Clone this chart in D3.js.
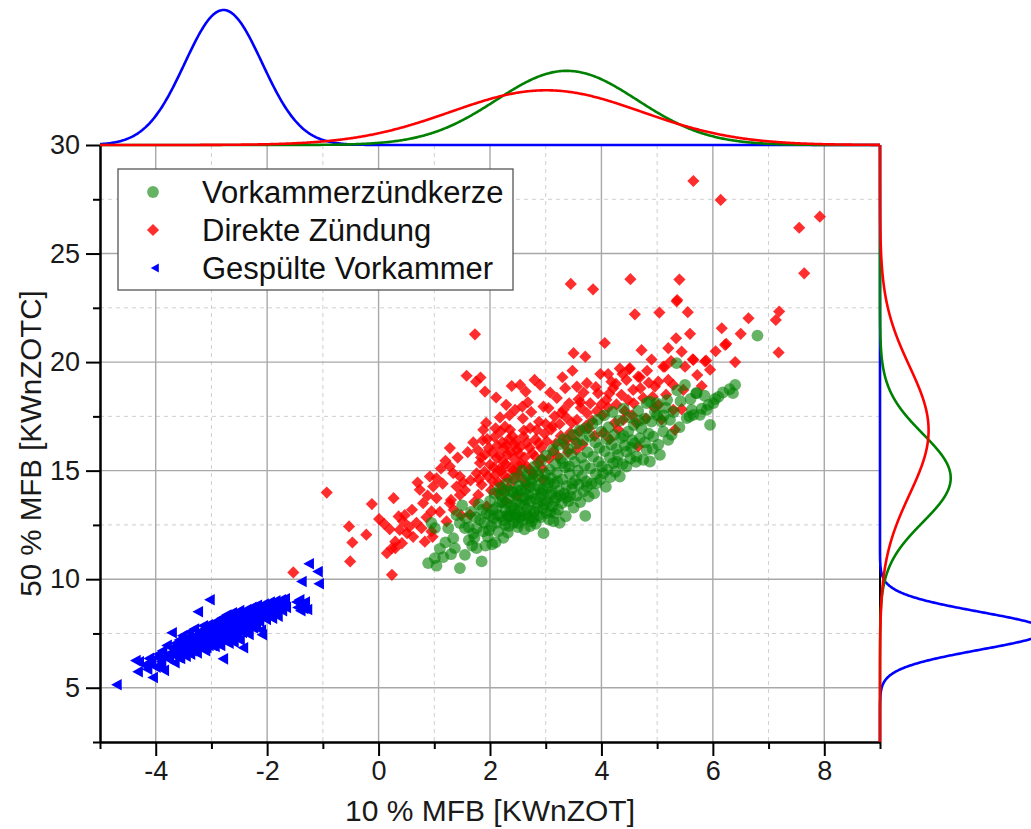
<!DOCTYPE html>
<html>
<head>
<meta charset="utf-8">
<script src="https://cdn.jsdelivr.net/npm/d3@7"></script>
<style>
  html, body { margin: 0; padding: 0; background: #fff; }
  svg { display: block; font-family: "Liberation Sans", Arial, sans-serif; }
</style>
</head>
<body>
<svg id="chart" width="1031" height="829"></svg>
<script>
// ---- Series names (legend order) ----
const seriesNames = ["Vorkammerzündkerze", "Direkte Zündung", "Gespülte Vorkammer"];

// ---- Axis ticks ----
const xTicks = [-4, -2, 0, 2, 4, 6, 8];
const xMinorTicks = [-5, -3, -1, 1, 3, 5, 7, 9];
const yTicks = [5, 10, 15, 20, 25, 30];
const yMinorTicks = [2.5, 7.5, 12.5, 17.5, 22.5, 27.5];
const xTitle = "10 % MFB [KWnZOT]";
const yTitle = "50 % MFB [KWnZOTC]";

// ---- Measurements: [10 % MFB, 50 % MFB] ----
const vorkammerPoints = [
  [0.89,10.74],[0.95,12.59],[1.01,10.97],[1.01,12.35],[1.04,10.62],[1.16,11.02],[1.20,11.70],[1.25,12.35],
  [1.34,11.89],[1.37,11.43],[1.46,10.51],[1.46,12.59],[1.55,11.12],[1.55,12.35],[1.40,12.95],[1.62,11.80],
  [1.66,13.10],[1.70,12.10],[1.74,12.85],[1.50,13.40],[1.10,11.40],[1.30,11.15],[1.58,12.80],[1.68,11.55],
  [1.62,12.40],[1.72,11.90],[1.86,13.20],[1.92,11.55],[2.00,12.95],[2.04,11.60],
  [1.76,11.43],[1.76,12.35],[1.82,12.73],[1.85,10.82],[1.88,12.20],[1.94,13.05],[1.96,11.95],[2.00,13.60],
  [2.02,12.45],[2.06,12.81],[2.08,13.95],[2.10,11.70],[2.12,13.30],[2.15,12.20],[2.18,14.20],[2.20,12.90],
  [2.22,13.55],[2.24,11.90],[1.90,12.60],[1.80,13.45],[1.98,12.25],[2.05,13.20],[2.12,12.60],[2.20,13.85],
  [2.14,12.95],[2.18,13.55],[2.26,14.05],[2.34,12.45],[2.43,13.25],[2.49,14.10],[2.54,12.85],[2.65,13.65],
  [2.72,12.45],
  [2.27,12.50],[2.28,13.20],[2.30,14.40],[2.32,12.15],[2.33,12.89],[2.35,13.70],[2.36,12.89],[2.38,14.05],
  [2.40,13.35],[2.42,12.60],[2.44,14.65],[2.46,13.00],[2.48,13.85],[2.50,12.40],[2.51,12.58],[2.53,14.30],
  [2.55,13.45],[2.57,12.95],[2.58,15.00],[2.60,13.75],[2.62,12.30],[2.64,14.15],[2.66,13.25],[2.68,14.80],
  [2.70,12.80],[2.72,13.60],[2.74,14.45],[2.75,12.66],[2.25,12.70],[2.29,13.50],[2.31,12.95],[2.37,13.15],
  [2.41,14.00],[2.45,12.85],[2.47,13.55],[2.52,13.10],[2.56,14.10],[2.59,12.75],[2.61,13.45],[2.63,14.55],
  [2.67,12.95],[2.69,13.90],[2.71,14.25],[2.73,13.15],
  [2.77,13.95],[2.79,13.10],[2.80,15.20],[2.82,12.55],[2.84,14.30],[2.85,13.50],[2.87,14.75],[2.88,12.95],
  [2.90,13.80],[2.92,15.45],[2.94,14.10],[2.95,13.25],[2.96,12.12],[2.98,14.55],[3.00,13.65],[3.01,15.70],
  [3.02,13.04],[3.04,14.20],[3.06,12.75],[3.07,15.05],[3.09,13.90],[3.10,14.65],[3.12,13.35],[3.13,15.95],
  [3.14,12.66],[3.15,14.40],[3.17,13.04],[3.18,15.30],[3.19,13.75],[3.20,14.90],[3.22,13.20],[3.23,16.20],
  [3.24,14.05],[3.25,12.60],[2.76,14.60],[2.78,12.85],[2.81,13.70],[2.83,14.95],[2.86,13.30],[2.89,14.15],
  [2.91,12.85],[2.93,13.95],[2.97,13.45],[2.99,14.85],[3.03,13.55],[3.05,14.45],[3.08,13.10],[3.11,14.05],
  [3.16,13.60],[3.21,14.50],
  [3.27,15.55],[3.29,13.50],[3.30,14.60],[3.32,16.45],[3.33,13.95],[3.35,15.15],[3.36,12.90],[3.38,14.30],
  [3.40,16.00],[3.41,13.60],[3.43,14.85],[3.44,13.81],[3.46,15.75],[3.47,14.15],[3.49,16.65],[3.50,13.30],
  [3.52,15.40],[3.53,14.55],[3.55,16.25],[3.56,13.85],[3.58,15.00],[3.59,14.35],[3.61,16.85],[3.62,13.55],
  [3.64,15.60],[3.65,14.75],[3.67,16.40],[3.68,14.05],[3.70,15.25],[3.71,12.92],[3.72,16.95],[3.73,14.50],
  [3.74,14.27],[3.75,15.85],[3.26,13.85],[3.31,15.35],[3.37,13.75],[3.42,15.20],[3.48,14.40],
  [3.77,13.80],[3.79,16.60],[3.80,15.10],[3.82,14.40],[3.84,17.15],[3.85,15.65],[3.87,13.95],[3.89,16.30],
  [3.90,14.85],[3.91,14.42],[3.93,17.35],[3.95,15.40],[3.96,16.05],[3.98,14.60],[4.00,16.80],[4.01,15.20],
  [4.03,14.88],[4.05,17.55],[4.06,15.90],[4.08,14.25],[4.10,16.45],[4.11,15.05],[4.13,17.00],[4.15,15.60],
  [4.16,14.70],[4.18,16.20],[4.20,17.70],[4.21,15.35],[4.23,16.65],[4.25,14.95],
  [4.27,16.00],[4.30,15.73],[4.32,17.30],[4.33,14.73],[4.35,16.50],[4.38,15.30],[4.40,17.85],[4.42,16.15],
  [4.45,15.19],[4.45,15.88],[4.48,16.80],[4.50,17.45],[4.52,15.55],[4.55,16.40],[4.58,17.10],[4.60,16.27],
  [4.62,15.40],[4.63,15.65],[4.66,17.75],[4.69,16.50],[4.72,16.95],[4.75,15.50],[4.28,15.40],[4.40,16.60],
  [4.54,16.05],[4.68,17.30],
  [4.78,17.40],[4.81,15.96],[4.81,18.11],[4.85,16.70],[4.87,15.42],[4.87,18.18],[4.90,17.26],[4.93,16.57],
  [4.96,17.70],[4.99,18.11],[5.02,16.20],[5.05,15.73],[5.08,17.26],[5.11,16.80],[5.15,17.90],[5.20,16.42],
  [4.78,16.30],[4.92,16.00],[5.00,17.55],[5.12,17.55],[5.18,18.25],
  [5.23,17.34],[5.26,16.65],[5.30,17.70],[5.35,19.95],[5.36,18.70],[5.40,17.00],[5.50,18.95],[5.53,17.42],
  [5.58,17.49],[5.62,17.80],[5.65,17.57],[5.71,18.57],[5.42,18.20],[5.60,18.30],
  [5.77,17.57],[5.80,17.85],[5.89,17.80],[5.92,18.03],[5.95,17.11],[6.01,18.11],[6.04,18.30],[6.10,18.40],
  [5.85,18.45],[6.18,18.60],[6.36,18.57],[6.40,18.95],[6.30,18.75],[6.80,21.22],[5.70,18.57]
];

const direktePoints = [
  [-1.53,10.31],[-0.93,13.99],[-0.51,10.82],[-0.47,11.69],[-0.53,12.43],[-0.22,12.05],
  [-0.12,13.46],[0.01,12.77],[0.24,10.20],[0.27,13.73],[0.30,11.43],[0.42,11.66],[0.36,12.89],[0.44,12.66],
  [0.38,12.27],[0.51,12.12],[0.30,11.73],[0.24,11.43],[0.20,12.30],[0.47,12.95],[0.10,12.55],[0.15,11.20],
  [0.74,14.12],[0.80,13.50],[0.77,12.35],[0.83,11.73],[0.92,14.73],[0.95,13.12],[0.95,12.20],[0.98,14.27],
  [0.60,13.20],[0.68,12.60],[0.88,13.85],[0.70,14.45],[0.55,12.40],[0.97,11.95],[0.62,11.95],[0.86,12.85],
  [1.04,14.65],[1.04,13.73],[1.22,12.66],[1.28,16.04],[1.28,15.19],[1.34,14.88],[1.40,14.27],[1.46,14.73],
  [1.46,13.88],[1.28,13.50],[1.10,13.10],[1.15,14.40],[1.20,15.45],[1.35,13.20],[1.42,15.60],[1.48,12.95],
  [1.30,13.65],[1.12,15.10],[1.52,14.45],
  [1.58,19.37],[1.73,21.28],[1.75,19.10],[1.83,19.29],[1.91,18.64],[1.88,16.88],[1.91,15.73],[1.82,15.35],
  [1.76,14.88],[1.64,12.97],[1.79,13.88],[1.94,13.35],[2.00,15.27],[1.55,14.10],[1.60,15.85],[1.65,14.55],
  [1.70,16.30],[1.72,13.55],[1.78,15.95],[1.85,14.35],[1.87,16.40],[1.93,17.20],[1.96,14.75],[1.98,16.05],
  [1.80,14.60],[1.84,15.60],[1.90,14.95],[1.95,16.45],
  [2.11,18.37],[2.29,18.03],[2.27,17.03],[2.36,16.88],[2.12,15.58],[2.30,16.19],[2.48,15.96],[2.05,14.50],
  [2.08,16.55],[2.14,13.95],[2.16,15.05],[2.18,17.45],[2.20,14.30],[2.22,16.30],[2.24,15.40],[2.26,14.75],
  [2.28,13.60],[2.31,15.75],[2.33,14.20],[2.35,17.55],[2.38,15.15],[2.40,16.60],[2.42,14.55],[2.43,15.55],
  [2.45,17.80],[2.46,14.95],[2.47,16.35],[2.49,13.85],[2.10,16.95],[2.39,18.90],
  [2.02,14.10],[2.04,15.85],[2.07,15.15],[2.09,14.80],[2.13,16.15],[2.15,14.45],[2.17,15.70],[2.19,16.80],
  [2.21,15.00],[2.23,14.05],[2.25,16.05],[2.28,15.30],[2.32,14.65],[2.34,16.45],[2.37,15.85],[2.41,15.00],
  [2.44,16.20],
  [2.54,18.95],[2.64,18.64],[2.80,19.18],[2.90,18.95],[2.72,16.96],[2.84,16.88],[2.60,16.57],[2.52,15.25],
  [2.55,16.10],[2.57,14.65],[2.59,17.40],[2.62,15.60],[2.65,14.35],[2.67,16.30],[2.70,15.05],[2.74,17.70],
  [2.76,15.80],[2.78,14.80],[2.82,16.45],[2.86,15.35],[2.88,17.25],[2.92,16.05],[2.94,15.10],[2.96,17.95],
  [2.98,16.70],[2.68,18.15],[2.58,17.95],[2.95,14.60],[2.50,14.90],[2.53,15.75],[2.56,15.30],[2.61,16.85],
  [2.66,15.20],[2.71,16.05],[2.75,14.95],[2.81,15.65],[2.87,16.25],[2.93,15.55],
  [3.05,17.88],[3.32,17.80],[3.35,18.80],[3.50,20.41],[3.45,23.60],[3.02,16.35],[3.06,15.55],[3.08,18.60],
  [3.10,16.90],[3.14,15.90],[3.16,17.50],[3.18,16.25],[3.20,18.35],[3.22,15.65],[3.25,17.15],[3.27,16.60],
  [3.30,19.30],[3.34,16.20],[3.37,17.45],[3.40,15.85],[3.42,18.10],[3.44,16.75],[3.47,17.20],[3.48,19.60],
  [3.00,17.15],[3.12,17.05],[3.28,17.65],[3.38,16.45],
  [3.56,18.87],[3.74,19.03],[3.59,18.29],[3.56,17.34],[3.74,17.65],[3.71,20.25],[3.85,23.35],[3.94,18.57],
  [3.52,16.40],[3.55,15.95],[3.60,16.80],[3.63,17.90],[3.66,16.20],[3.68,18.60],[3.77,16.95],[3.80,18.10],
  [3.83,17.30],[3.88,16.60],[3.92,17.75],[3.98,19.45],[3.62,18.15],[3.72,17.05],[3.90,18.85],
  [4.06,20.88],[4.21,18.80],[4.09,18.26],[4.36,18.49],[4.39,17.34],[4.45,19.18],[4.02,17.55],[4.04,16.75],
  [4.12,17.90],[4.15,16.45],[4.18,19.10],[4.24,17.20],[4.27,18.05],[4.30,16.90],[4.33,19.70],[4.42,17.75],
  [4.48,18.25],[4.12,19.45],[4.00,18.05],[4.14,18.55],[4.26,19.00],[4.38,19.45],
  [4.51,19.72],[4.52,23.82],[4.60,22.20],[4.66,19.33],[4.57,18.72],[4.63,17.19],[4.66,16.11],[4.50,19.67],
  [4.69,19.30],[4.90,20.12],[4.96,18.87],[4.55,17.55],[4.75,18.35],[4.80,17.40],[4.85,19.05],[4.72,20.55],
  [4.95,17.90],[4.58,18.10],[4.70,18.80],[4.82,19.60],[4.92,18.40],
  [5.04,22.28],[5.36,22.86],[5.34,21.10],[5.20,20.64],[5.44,20.48],[5.14,19.79],[5.02,19.10],[5.20,19.18],
  [5.29,18.95],[5.47,18.72],[5.02,18.03],[5.29,17.80],[5.44,17.83],[5.32,16.88],[5.11,19.79],[5.40,23.80],
  [5.35,22.80],[5.25,20.05],[5.08,17.35],[5.16,18.50],
  [5.59,21.30],[5.65,28.34],[5.65,20.10],[5.86,20.03],[5.64,20.13],[5.88,20.07],[5.50,19.79],[5.72,19.40],
  [5.55,22.30],[5.80,18.90],[5.95,19.65],
  [6.14,27.47],[6.16,21.56],[6.22,20.79],[6.24,20.84],[6.05,20.50],[6.40,20.00],
  [6.64,22.02],[7.19,22.33],[7.13,21.94],[7.18,20.44],[7.55,26.19],[7.64,24.09],[7.92,26.70],[6.50,21.30]
];

const gespueltePoints = [
  [-4.70,5.14],[-4.36,6.25],[-4.30,6.20],[-4.32,5.74],[-4.05,5.47],[-4.15,5.85],[-4.08,6.10],[-4.00,5.95],
  [-4.12,6.35],[-3.98,6.40],[-4.20,6.05],[-3.92,6.00],
  [-3.95,6.55],[-3.90,6.20],[-3.88,6.70],[-3.85,5.80],[-3.82,6.45],[-3.80,6.95],[-3.76,6.30],[-3.74,6.60],
  [-3.71,7.53],[-3.70,6.85],[-3.66,6.15],[-3.64,7.05],[-3.62,6.50],[-3.60,6.75],[-3.58,7.20],[-3.56,6.35],
  [-3.55,6.95],[-3.53,6.60],[-3.52,7.40],[-3.50,6.80],[-3.60,6.40],[-3.68,6.60],[-3.44,6.65],
  [-3.48,7.10],[-3.46,6.45],[-3.45,6.90],[-3.43,7.30],[-3.41,6.70],[-3.40,7.55],[-3.38,6.55],[-3.36,7.00],
  [-3.35,7.25],[-3.33,6.80],[-3.31,7.70],[-3.30,6.95],[-3.28,7.15],[-3.26,6.60],[-3.24,8.50],[-3.23,7.40],
  [-3.21,7.00],[-3.20,7.60],[-3.18,6.85],[-3.16,7.25],[-3.15,7.85],[-3.13,7.05],[-3.11,6.70],[-3.10,7.45],
  [-3.08,7.20],[-3.06,7.90],[-3.05,6.95],[-3.03,9.05],[-3.02,7.35],[-3.00,7.65],
  [-3.30,7.35],[-3.25,7.10],[-3.19,7.45],[-3.12,7.60],[-3.07,7.00],[-3.01,7.25],
  [-3.28,7.00],[-3.26,7.45],[-3.22,6.95],[-3.17,7.15],[-3.14,7.50],[-3.09,6.85],[-3.04,7.40],[-2.99,7.85],
  [-2.99,6.95],[-3.35,6.70],[-3.32,7.15],[-3.12,6.90],[-3.02,7.55],
  [-2.98,7.10],[-2.97,7.80],[-2.95,7.45],[-2.94,6.90],[-2.92,8.05],[-2.90,7.30],[-2.89,7.60],[-2.87,7.00],
  [-2.86,7.85],[-2.85,7.67],[-2.83,7.25],[-2.82,8.20],[-2.80,7.50],[-2.79,6.33],[-2.78,7.95],[-2.76,7.15],
  [-2.75,7.70],[-2.73,8.35],[-2.72,7.40],[-2.70,7.85],[-2.69,7.05],[-2.67,8.05],[-2.66,7.55],[-2.64,7.30],
  [-2.63,8.45],[-2.61,7.80],[-2.60,7.10],[-2.58,8.15],[-2.57,7.60],[-2.55,7.95],[-2.54,7.35],[-2.52,8.30],
  [-2.51,7.75],[-2.50,8.55],[-2.49,7.20],
  [-2.96,7.55],[-2.91,7.75],[-2.88,7.35],[-2.84,7.95],[-2.81,7.65],[-2.77,7.40],[-2.74,8.10],[-2.71,7.60],
  [-2.68,7.90],[-2.65,8.20],[-2.62,7.50],[-2.59,7.95],[-2.56,8.35],[-2.53,7.70],
  [-2.93,7.20],[-2.90,7.95],[-2.86,7.45],[-2.84,6.95],[-2.80,7.80],[-2.78,7.25],[-2.74,7.65],[-2.71,8.25],
  [-2.70,7.30],[-2.66,7.75],[-2.62,8.00],[-2.60,7.45],[-2.57,8.25],[-2.55,7.45],[-2.52,7.85],[-2.95,7.65],
  [-2.92,7.15],[-2.81,7.40],[-2.68,7.50],[-2.58,7.70],[-2.50,8.05],
  [-2.48,7.90],[-2.46,8.20],[-2.45,7.55],[-2.43,6.84],[-2.42,8.40],[-2.40,8.00],[-2.38,7.70],[-2.37,8.60],
  [-2.35,8.15],[-2.33,7.45],[-2.32,8.35],[-2.30,7.95],[-2.28,8.70],[-2.27,8.10],[-2.25,7.75],[-2.23,8.50],
  [-2.21,8.25],[-2.20,7.90],[-2.18,8.80],[-2.16,8.40],[-2.14,8.05],[-2.13,8.65],[-2.11,7.65],[-2.09,7.44],
  [-2.08,8.30],[-2.06,8.85],[-2.04,8.55],[-2.02,8.15],
  [-2.44,8.05],[-2.39,8.30],[-2.34,7.85],[-2.29,8.45],[-2.24,8.20],
  [-2.48,8.35],[-2.46,7.65],[-2.41,8.15],[-2.36,7.95],[-2.31,8.55],[-2.26,7.95],
  [-1.99,8.70],[-1.97,8.35],[-1.95,8.95],[-1.93,8.60],[-1.91,8.20],[-1.89,8.80],[-1.87,8.45],[-1.85,9.00],
  [-1.83,8.65],[-1.81,8.30],[-1.79,8.90],[-1.77,8.75],[-1.75,9.05],[-1.73,8.55],[-1.71,8.95],[-1.70,8.80],
  [-1.68,9.10],[-1.66,8.70],
  [-1.47,8.95],[-1.45,8.70],[-1.42,9.05],[-1.40,8.55],[-1.38,8.85],[-1.35,8.65],[-1.32,8.95],[-1.28,8.60],
  [-1.38,9.89],[-1.07,9.79],[-1.09,10.35],[-1.25,10.71]
];

const seriesPoints = [vorkammerPoints, direktePoints, gespueltePoints];

// ---- Styling ----
const lineColors = ["#008000", "#ff0000", "#0000ff"];
const plot = { left: 100, right: 880, top: 145, bottom: 742 };

const svg = d3.select("#chart");

const x = d3.scaleLinear().domain([-5, 9]).range([plot.left, plot.right]);
const y = d3.scaleLinear().domain([2.5, 30]).range([plot.bottom, plot.top]);

// ---- Grid ----
const grid = svg.append("g");
grid.selectAll("line.xmin").data(xMinorTicks.filter(v => v > -5 && v < 9)).join("line")
  .attr("x1", d => x(d)).attr("x2", d => x(d)).attr("y1", plot.top).attr("y2", plot.bottom)
  .attr("stroke", "#cfcfcf").attr("stroke-width", 1).attr("stroke-dasharray", "4,4");
grid.selectAll("line.ymin").data(yMinorTicks.filter(v => v > 2.5 && v < 30)).join("line")
  .attr("y1", d => y(d)).attr("y2", d => y(d)).attr("x1", plot.left).attr("x2", plot.right)
  .attr("stroke", "#cfcfcf").attr("stroke-width", 1).attr("stroke-dasharray", "4,4");
grid.selectAll("line.xmaj").data(xTicks).join("line")
  .attr("x1", d => x(d)).attr("x2", d => x(d)).attr("y1", plot.top).attr("y2", plot.bottom)
  .attr("stroke", "#a8a8a8").attr("stroke-width", 1.4);
grid.selectAll("line.ymaj").data(yTicks.filter(v => v < 30)).join("line")
  .attr("y1", d => y(d)).attr("y2", d => y(d)).attr("x1", plot.left).attr("x2", plot.right)
  .attr("stroke", "#a8a8a8").attr("stroke-width", 1.4);

// ---- Scatter markers ----
const trianglePath = "M-5.6,0L5,-5.8L5,5.8Z";
const diamond = d3.symbol(d3.symbolSquare, 74)();

svg.append("g").selectAll("path").data(gespueltePoints).join("path")
  .attr("d", trianglePath)
  .attr("transform", d => `translate(${x(d[0])},${y(d[1])})`)
  .attr("fill", "#0000ff");

svg.append("g").selectAll("path").data(direktePoints).join("path")
  .attr("d", diamond)
  .attr("transform", d => `translate(${x(d[0])},${y(d[1])}) rotate(45)`)
  .attr("fill", "#ff0000").attr("fill-opacity", 0.82);

svg.append("g").selectAll("circle").data(vorkammerPoints).join("circle")
  .attr("cx", d => x(d[0])).attr("cy", d => y(d[1])).attr("r", 5.9)
  .attr("fill", "#008000").attr("fill-opacity", 0.6);

// ---- Axes ----
const tickFont = 27;
const xAxis = svg.append("g").attr("transform", `translate(0,${plot.bottom})`)
  .call(d3.axisBottom(x).tickValues(xTicks).tickSize(14).tickSizeOuter(0).tickPadding(5));
svg.append("g").attr("transform", `translate(0,${plot.bottom})`)
  .call(d3.axisBottom(x).tickValues(xMinorTicks).tickSize(7).tickSizeOuter(0).tickFormat(""));
svg.append("g").attr("transform", `translate(${plot.left},0)`)
  .call(d3.axisLeft(y).tickValues(yTicks).tickSize(14).tickSizeOuter(0).tickPadding(6));
svg.append("g").attr("transform", `translate(${plot.left},0)`)
  .call(d3.axisLeft(y).tickValues(yMinorTicks).tickSize(7).tickSizeOuter(0).tickFormat(""));

svg.selectAll(".domain").attr("stroke", "#000").attr("stroke-width", 2);
svg.selectAll(".tick line").attr("stroke", "#000").attr("stroke-width", 2);
svg.selectAll(".tick text").attr("font-size", tickFont).attr("fill", "#1a1a1a")
  .attr("font-family", "'Liberation Sans', Arial, sans-serif");
xAxis.selectAll(".tick text").text(d => d < 0 ? "-" + Math.abs(d) : d);

// top and right frame lines
svg.append("line").attr("x1", plot.left).attr("x2", plot.right).attr("y1", plot.top).attr("y2", plot.top)
  .attr("stroke", "#000").attr("stroke-width", 2);
svg.append("line").attr("x1", plot.right).attr("x2", plot.right).attr("y1", plot.top).attr("y2", plot.bottom)
  .attr("stroke", "#000").attr("stroke-width", 2);

// ---- Axis titles ----
svg.append("text").attr("x", (plot.left + plot.right) / 2).attr("y", 821)
  .attr("text-anchor", "middle").attr("font-size", 30).attr("fill", "#1a1a1a").text(xTitle);
svg.append("text").attr("transform", `translate(41,${(plot.top + plot.bottom) / 2}) rotate(-90)`)
  .attr("text-anchor", "middle").attr("font-size", 29.5).attr("fill", "#1a1a1a").text(yTitle);

// ---- Legend ----
const legend = svg.append("g");
legend.append("rect").attr("x", 118).attr("y", 169).attr("width", 395).attr("height", 121)
  .attr("fill", "#fff").attr("stroke", "#555").attr("stroke-width", 1.3);
const rowY = [192, 230, 268];
legend.append("circle").attr("cx", 153).attr("cy", rowY[0]).attr("r", 5.9)
  .attr("fill", "#008000").attr("fill-opacity", 0.6);
legend.append("path").attr("d", diamond).attr("transform", `translate(153,${rowY[1]}) rotate(45)`)
  .attr("fill", "#ff0000").attr("fill-opacity", 0.82);
legend.append("path").attr("d", "M-4.2,0L3.8,-4.6L3.8,4.6Z").attr("transform", `translate(155,${rowY[2]})`)
  .attr("fill", "#0000ff");
legend.selectAll("text").data(seriesNames).join("text")
  .attr("x", 202).attr("y", (d, i) => rowY[i] + 10.5)
  .attr("font-size", 31).attr("fill", "#111").text(d => d);

// ---- Marginal distribution curves (normal fit of each series) ----
function normalFit(values) {
  const m = d3.mean(values), s = d3.deviation(values);
  return v => Math.exp(-0.5 * ((v - m) / s) ** 2) / (s * Math.sqrt(2 * Math.PI));
}
const xs = d3.range(-5, 9.0001, 0.02);
const ys = d3.range(2.5, 30.0001, 0.02);
const fitsX = seriesPoints.map(pts => normalFit(pts.map(p => p[0])));
const fitsY = seriesPoints.map(pts => normalFit(pts.map(p => p[1])));
const topMax = d3.max(fitsX, f => d3.max(xs, f));
const rightMax = d3.max(fitsY, f => d3.max(ys, f));
const topScale = d3.scaleLinear().domain([0, topMax]).range([plot.top, 10]);
const rightScale = d3.scaleLinear().domain([0, rightMax]).range([plot.right, 1046]);

const drawOrder = [2, 0, 1];
const topLine = f => d3.line().x(v => x(v)).y(v => topScale(f(v)))(xs);
const rightLine = f => d3.line().x(v => rightScale(f(v))).y(v => y(v))(ys);
const curves = svg.append("g").attr("fill", "none").attr("stroke-width", 2.6).attr("stroke-linejoin", "round");
drawOrder.forEach(i => {
  curves.append("path").attr("d", topLine(fitsX[i])).attr("stroke", lineColors[i]);
  curves.append("path").attr("d", rightLine(fitsY[i])).attr("stroke", lineColors[i]);
});
</script>
</body>
</html>
